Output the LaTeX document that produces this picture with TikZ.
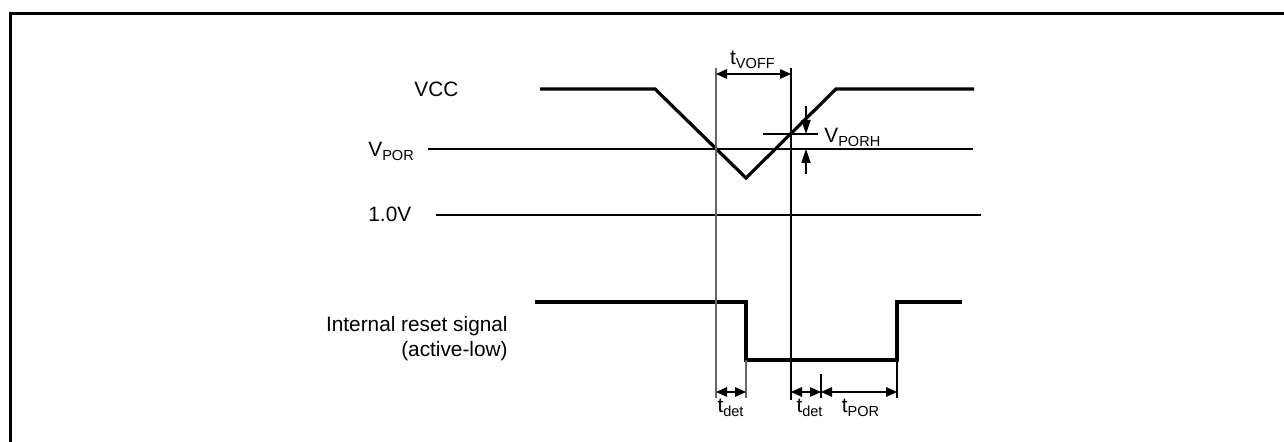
\documentclass[tikz,border=0pt]{standalone}
\usepackage{fontspec}
\setmainfont{Liberation Sans}
\usetikzlibrary{arrows.meta}
\begin{document}
\begin{tikzpicture}[x=0.5pt,y=-0.5pt,
  sig/.style={line width=1.6pt, line join=miter},
  thinline/.style={line width=0.55pt},
  greyline/.style={line width=0.6pt, draw=black!60},
  dimarr/.style={line width=0.55pt, {Triangle[length=5.5pt,width=4.8pt]}-{Triangle[length=5.5pt,width=4.8pt]}},
  onearr/.style={line width=0.55pt, -{Triangle[length=7pt,width=4.6pt]}},
  lbl/.style={font=\fontsize{10.4}{12.5}\selectfont, inner sep=0pt},
  framepath/.style={line width=1.5pt}]
\useasboundingbox (0,0) rectangle (1284,442);
% frame
\coordinate (fA) at (10.5,442);
\coordinate (fB) at (10.5,13.5);
\coordinate (fC) at (1284,13.5);
\draw[framepath] (fA) -- (fB) -- (fC);

% reference levels
\coordinate (por0) at (428,149);
\coordinate (por1) at (973,149);
\coordinate (one0) at (436,215);
\coordinate (one1) at (981,215);
\draw[thinline] (por0) -- (por1);
\draw[thinline] (one0) -- (one1);

% VCC waveform
\coordinate (v0) at (540,89);
\coordinate (v1) at (655,89);
\coordinate (vmin) at (746,178);
\coordinate (v2) at (836,89);
\coordinate (v3) at (974,89);
\draw[sig] (v0) -- (v1) -- (vmin) -- (v2) -- (v3);

% reset waveform
\coordinate (r0) at (535,302);
\coordinate (r1) at (746,302);
\coordinate (r2) at (746,360);
\coordinate (r3) at (897,360);
\coordinate (r4) at (897,302);
\coordinate (r5) at (962,302);
\draw[sig] (r0) -- (r1) -- (r2) -- (r3) -- (r4) -- (r5);

% vertical guide lines
\coordinate (ga0) at (716,68);
\coordinate (ga1) at (716,398);
\coordinate (gb0) at (791,68);
\coordinate (gb1) at (791,400);
\coordinate (gc1) at (746,398);
\coordinate (gd1) at (897,398);
\coordinate (ge0) at (821,374);
\coordinate (ge1) at (821,398);
\draw[greyline] (ga0) -- (ga1);
\draw[thinline] (gb0) -- (gb1);
\draw[greyline] (r2) -- (gc1);
\draw[thinline] (r3) -- (gd1);
\draw[thinline] (ge0) -- (ge1);

% tVOFF
\coordinate (off0) at (716,74);
\coordinate (off1) at (791,74);
\draw[dimarr] (off0) -- (off1);
\node[lbl, anchor=base] (toff) at (753,65) {t\textsubscript{VOFF}};

% VPORH
\coordinate (h0) at (763,134);
\coordinate (h1) at (818,134);
\draw[thinline] (h0) -- (h1);
\coordinate (ua) at (806,106);
\coordinate (ub) at (806,134);
\coordinate (la) at (806,174);
\coordinate (lb) at (806,149);
\draw[onearr] (ua) -- (ub);
\draw[onearr] (la) -- (lb);
\node[lbl, anchor=base west] (vporh) at (824,143) {V\textsubscript{PORH}};

% timing arrows
\coordinate (d0) at (716,392);
\coordinate (d1) at (746,392);
\coordinate (d2) at (791,392);
\coordinate (d3) at (821,392);
\coordinate (d4) at (897,392);
\draw[dimarr] (d0) -- (d1);
\draw[dimarr] (d2) -- (d3);
\draw[dimarr] (d3) -- (d4);
\node[lbl, anchor=base] (tdet1) at (731,413) {t\textsubscript{det}};
\node[lbl, anchor=base] (tdet2) at (810,413) {t\textsubscript{det}};
\node[lbl, anchor=base] (tpor) at (861,413) {t\textsubscript{POR}};

% left labels
\node[lbl, anchor=base west] (vcc) at (414,97) {VCC};
\node[lbl, anchor=base west] (vpor) at (368,157) {V\textsubscript{POR}};
\node[lbl, anchor=base west] (onev) at (368,222) {1.0V};
\node[lbl, anchor=base east] (irs1) at (508,332) {Internal reset signal};
\node[lbl, anchor=base east] (irs2) at (508,357) {(active-low)};
\end{tikzpicture}
\end{document}
